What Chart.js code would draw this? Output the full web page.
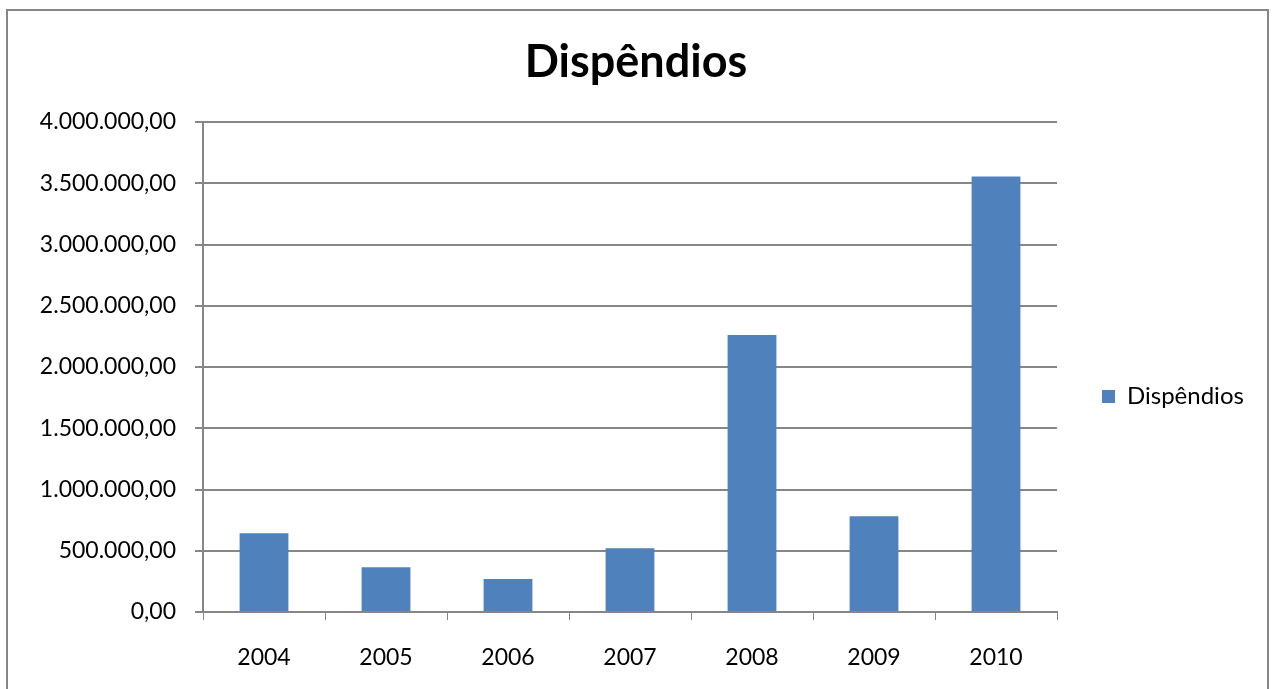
<!DOCTYPE html>
<html>
<head>
<meta charset="utf-8">
<script src="https://cdn.jsdelivr.net/npm/chart.js@4/dist/chart.umd.min.js"></script>
<style>
html,body{margin:0;padding:0;background:#fff;}
#wrap{position:absolute;left:0;top:0;width:1272px;height:689px;}
</style>
</head>
<body>
<div id="wrap"><canvas id="c" width="1272" height="689"></canvas></div>
<script>
const categories = ['2004','2005','2006','2007','2008','2009','2010'];
const seriesName = 'Dispêndios';
const values = [643000, 366000, 270000, 521000, 2262000, 781000, 3556000];
const chartTitle = 'Dispêndios';

const FONT = 'Lato, "Open Sans", "Liberation Sans", sans-serif';
const GRID = '#868686';

function fmt(v){
  const parts = Math.round(v).toString().replace(/\B(?=(\d{3})+(?!\d))/g,'.');
  return parts + ',00';
}

const borderPlugin = {
  id:'frame',
  beforeDraw(chart){
    const ctx = chart.ctx;
    ctx.save();
    ctx.fillStyle='#fff';
    ctx.fillRect(0,0,chart.width,chart.height);
    ctx.strokeStyle=GRID;
    ctx.lineWidth=2;
    ctx.strokeRect(7,10,1261,720);
    ctx.restore();
  }
};

const chart = new Chart(document.getElementById('c'), {
  type:'bar',
  data:{
    labels:categories,
    datasets:[{label:seriesName, data:values, backgroundColor:'#4F81BD', borderWidth:0,
      barPercentage:0.4, categoryPercentage:1.0}]
  },
  options:{
    responsive:false,
    animation:false,
    devicePixelRatio:1,
    layout:{padding:{left:0,right:0,top:0,bottom:0}},
    plugins:{
      title:{display:true, text:chartTitle, color:'#000',
        font:{family:FONT, size:45, weight:'bold'}, padding:{top:35,bottom:33}},
      legend:{position:'right', align:'center',
        labels:{color:'#000', font:{family:FONT, size:24}, boxWidth:13, boxHeight:13, padding:45}},
      tooltip:{enabled:false}
    },
    scales:{
      x:{
        grid:{display:true, drawOnChartArea:false, drawTicks:true, tickLength:8, color:GRID, offset:true},
        border:{display:true, color:GRID, width:2},
        ticks:{color:'#000', font:{family:FONT, size:23}, padding:24},
        afterFit(s){ s.height = 77; }
      },
      y:{
        min:0, max:4000000,
        ticks:{stepSize:500000, color:'#000', font:{family:FONT, size:23}, padding:19,
          callback:(v)=>fmt(v)},
        grid:{color:GRID, lineWidth:2, tickLength:8},
        border:{display:true, color:GRID, width:2},
        afterFit(s){ s.width = 203; }
      }
    }
  },
  plugins:[borderPlugin]
});
// legend box width and vertical placement tuned to the reference
const lg = chart.legend;
const origFit = lg.fit;
lg.fit = function(){ origFit.call(this); this.width = 215; };
const origDraw = lg.draw;
lg.draw = function(){
  const t = this.top;
  this.top = t + 104;
  origDraw.call(this);
  this.top = t;
};
chart.update('none');
</script>
</body>
</html>
